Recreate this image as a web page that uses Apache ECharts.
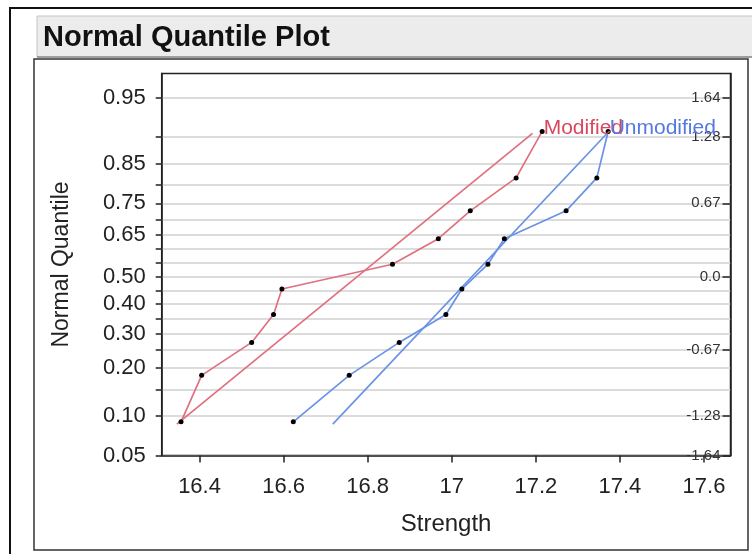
<!DOCTYPE html>
<html><head><meta charset="utf-8">
<script src="https://cdn.jsdelivr.net/npm/echarts@6/dist/echarts.min.js"></script>
<style>html,body{margin:0;padding:0;background:#fff}#c{width:752px;height:554px}</style>
</head><body><div id="c"></div>
<script>
// Data
const modifiedStrength = [16.356, 16.405, 16.524, 16.576, 16.596, 16.859, 16.968, 17.044, 17.153, 17.215];
const unmodifiedStrength = [16.623, 16.756, 16.875, 16.986, 17.024, 17.086, 17.125, 17.272, 17.345, 17.372];
const normalQuantiles = [-1.335, -0.908, -0.605, -0.349, -0.114, 0.114, 0.349, 0.605, 0.908, 1.335];
const modifiedFitX = [16.346, 17.192];
const modifiedFitZ = [-1.356, 1.318];
const unmodifiedFitX = [16.717, 17.372];
const unmodifiedFitZ = [-1.356, 1.328];
const seriesNames = ['Modified', 'Unmodified'];
const xTicks = [16.4, 16.6, 16.8, 17.0, 17.2, 17.4, 17.6];
const probLabels = ['0.05', '0.10', '0.20', '0.30', '0.40', '0.50', '0.65', '0.75', '0.85', '0.95'];
const probLabelZ = [-1.645, -1.282, -0.842, -0.524, -0.253, 0, 0.385, 0.674, 1.036, 1.645];
const probGridZ = [-1.645, -1.282, -1.036, -0.842, -0.674, -0.524, -0.385, -0.253, -0.126, 0, 0.126, 0.253, 0.385, 0.524, 0.674, 0.842, 1.036, 1.282, 1.645];
const zLabels = ['-1.64', '-1.28', '-0.67', '0.0', '0.67', '1.28', '1.64'];
const zLabelValues = [-1.645, -1.282, -0.674, 0, 0.674, 1.282, 1.645];

const FONT = 'Liberation Sans, Arial, sans-serif';
const RED = '#e0707f', RED_TXT = '#d9475c';
const BLUE = '#6a92e6', BLUE_TXT = '#5578e0';

function pts(xs, zs, name, txtColor) {
  return xs.map((x, i) => {
    const d = { value: [x, zs[i]] };
    if (i === xs.length - 1 && name) {
      d.label = { show: true, formatter: name, position: 'right', distance: 0, offset: [-1, -3],
        color: txtColor, fontSize: 21, fontFamily: FONT };
    }
    return d;
  });
}
function lookup(vals, labels, v) {
  for (let i = 0; i < vals.length; i++) if (Math.abs(vals[i] - v) < 1e-6) return labels[i];
  return '';
}

const chart = echarts.init(document.getElementById('c'), null, { renderer: 'canvas' });
chart.setOption({
  animation: false,
  backgroundColor: '#fff',
  graphic: [
    { type: 'line', shape: { x1: 10, y1: 8, x2: 10, y2: 554 }, style: { stroke: '#111', lineWidth: 2 } },
    { type: 'line', shape: { x1: 9, y1: 8, x2: 752, y2: 8 }, style: { stroke: '#111', lineWidth: 2 } },
    { type: 'rect', shape: { x: 37, y: 16, width: 730, height: 41 }, style: { fill: '#ececec', stroke: '#c4c4c4', lineWidth: 1 } },
    { type: 'line', shape: { x1: 37, y1: 57, x2: 752, y2: 57 }, style: { stroke: '#8a8a8a', lineWidth: 1.5 } },
    { type: 'rect', shape: { x: 34, y: 59, width: 714, height: 491 }, style: { fill: 'none', stroke: '#333', lineWidth: 1.5 } },
    { type: 'text', left: 43, top: 23, style: { text: 'Normal Quantile Plot', font: 'bold 29px ' + FONT, fill: '#111' } }
  ],
  grid: { left: 161.7, right: 21.5, top: 73.5, bottom: 98.5, show: true, borderColor: '#222', borderWidth: 1.5, backgroundColor: 'transparent' },
  xAxis: {
    type: 'value', min: 16.31, max: 17.663,
    name: 'Strength', nameLocation: 'middle', nameGap: 57,
    nameTextStyle: { fontSize: 24, fontFamily: FONT, color: '#222' },
    axisLine: { show: true, onZero: false, lineStyle: { color: '#222', width: 1.5 } },
    axisTick: { show: true, length: 7, customValues: xTicks, lineStyle: { color: '#222', width: 1.5 } },
    axisLabel: { customValues: xTicks, fontSize: 22, fontFamily: FONT, color: '#222', margin: 20,
      formatter: v => String(Math.round(v * 10) / 10) },
    splitLine: { show: false }
  },
  yAxis: [
    {
      type: 'value', min: -1.645, max: 1.868, position: 'left',
      name: 'Normal Quantile', nameLocation: 'middle', nameGap: 89, nameRotate: 90,
      nameTextStyle: { fontSize: 23, fontFamily: FONT, color: '#222' },
      axisLine: { show: true, onZero: false, lineStyle: { color: '#222', width: 1.5 } },
      axisTick: { show: true, length: 6, customValues: probGridZ, lineStyle: { color: '#222', width: 1.5 } },
      axisLabel: { customValues: probLabelZ, fontSize: 22, fontFamily: FONT, color: '#222', margin: 16,
        formatter: v => lookup(probLabelZ, probLabels, v) },
      splitLine: { show: true, lineStyle: { color: '#dcdcdc', width: 2 } }
    },
    {
      type: 'value', min: -1.645, max: 1.868, position: 'right',
      axisLine: { show: true, onZero: false, lineStyle: { color: '#222', width: 1.5 } },
      axisTick: { show: true, inside: true, length: 8, customValues: zLabelValues, lineStyle: { color: '#222', width: 1.5 } },
      axisLabel: { inside: true, customValues: zLabelValues, fontSize: 15, fontFamily: FONT, color: '#333', margin: 10,
        formatter: v => lookup(zLabelValues, zLabels, v) },
      splitLine: { show: false }
    }
  ],
  series: [
    { name: 'Modified fit', type: 'line', data: pts(modifiedFitX, modifiedFitZ), symbol: 'none',
      lineStyle: { color: RED, width: 1.7 }, z: 2 },
    { name: 'Unmodified fit', type: 'line', data: pts(unmodifiedFitX, unmodifiedFitZ), symbol: 'none',
      lineStyle: { color: BLUE, width: 1.7 }, z: 2 },
    { name: seriesNames[0], type: 'line', data: pts(modifiedStrength, normalQuantiles, seriesNames[0], RED_TXT),
      symbol: 'circle', symbolSize: 5, itemStyle: { color: '#000' }, lineStyle: { color: RED, width: 1.7 }, z: 3 },
    { name: seriesNames[1], type: 'line', data: pts(unmodifiedStrength, normalQuantiles, seriesNames[1], BLUE_TXT),
      symbol: 'circle', symbolSize: 5, itemStyle: { color: '#000' }, lineStyle: { color: BLUE, width: 1.7 }, z: 3 }
  ]
});
</script>
</body></html>
